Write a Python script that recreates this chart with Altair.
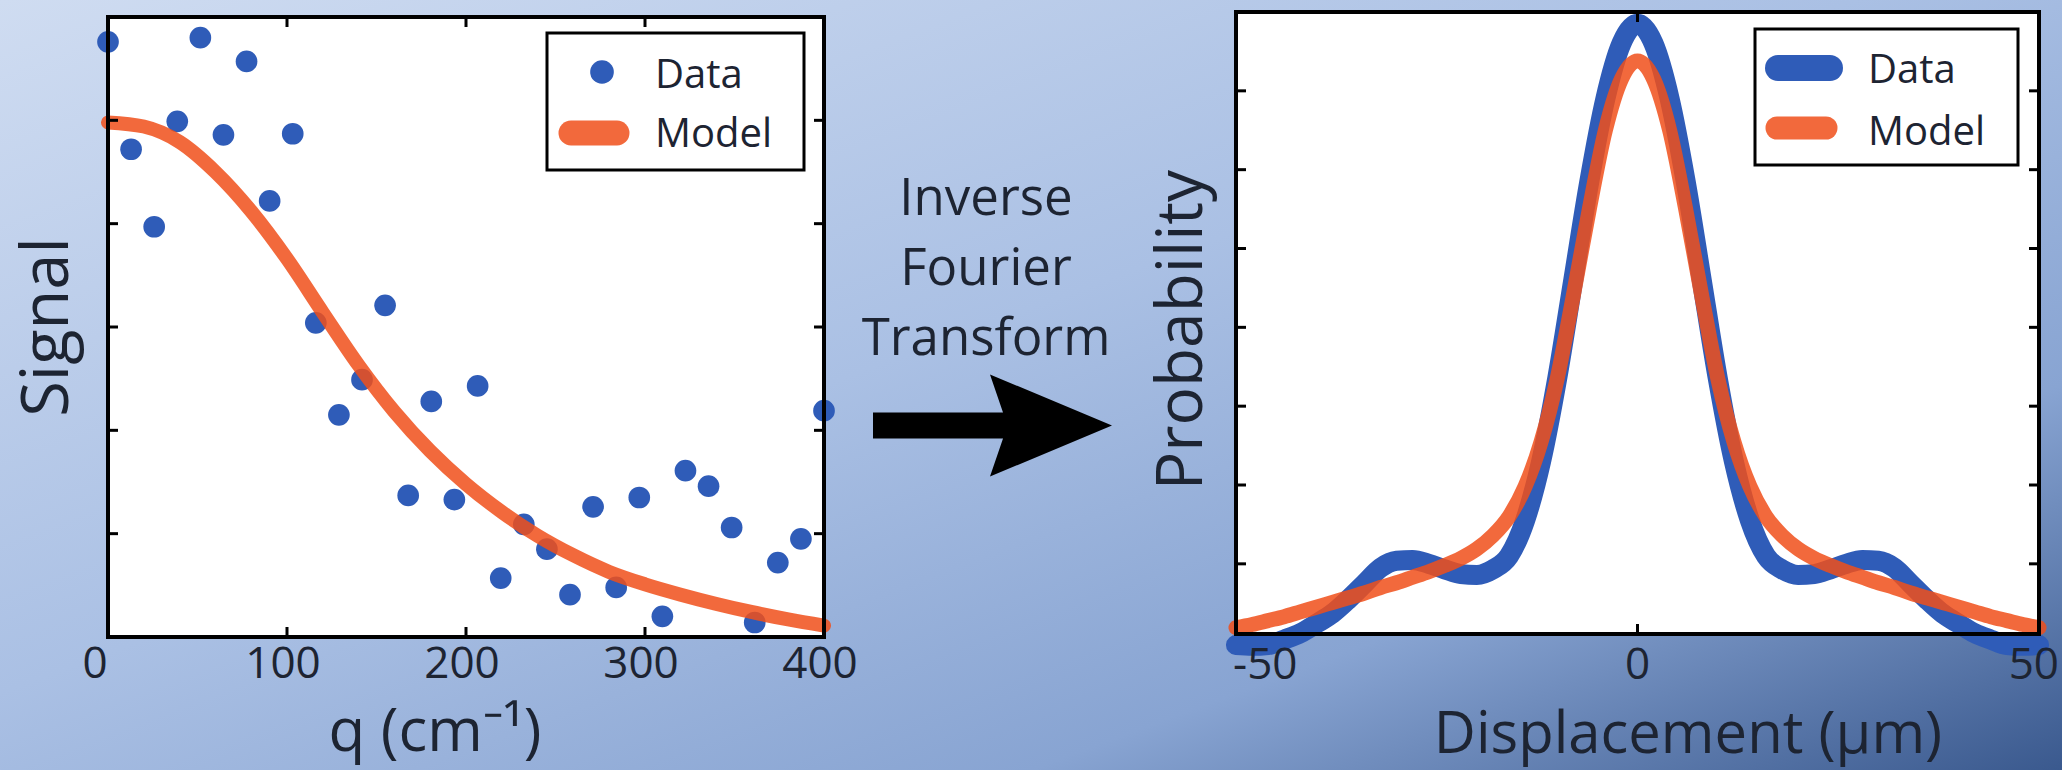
import altair as alt
import pandas as pd

# ---------------- measured signal vs. wavenumber ----------------
q_points = [0, 12.9, 25.8, 38.7, 51.6, 64.5, 77.4, 90.3, 103.2, 116.1, 129.0, 141.9,
            154.8, 167.7, 180.6, 193.5, 206.5, 219.4, 232.3, 245.2, 258.1, 271.0,
            283.9, 296.8, 309.7, 322.6, 335.5, 348.4, 361.3, 374.2, 387.1, 400.0]
signal_points = [5.76, 4.72, 3.97, 4.99, 5.80, 4.86, 5.57, 4.22, 4.87, 3.04, 2.15, 2.49,
                 3.21, 1.37, 2.28, 1.33, 2.43, 0.57, 1.09, 0.85, 0.41, 1.26,
                 0.48, 1.35, 0.20, 1.61, 1.46, 1.06, 0.14, 0.72, 0.95, 2.19]

# fitted model curve
q_fit = [0, 20, 40, 60, 80, 100, 120, 140, 160, 180, 200,
         220, 240, 260, 280, 300, 320, 340, 360, 380, 400]
signal_fit = [4.98, 4.94, 4.79, 4.50, 4.12, 3.66, 3.14, 2.63, 2.18, 1.80, 1.48,
              1.21, 0.98, 0.79, 0.63, 0.51, 0.41, 0.32, 0.24, 0.17, 0.11]

# ---------------- displacement probability ----------------
displacement = [-50, -48, -46, -44, -42, -40, -38, -36, -34, -32, -30, -28, -26,
                -24, -22, -20, -18, -16, -14, -12, -10, -8, -6, -4, -2, 0,
                2, 4, 6, 8, 10, 12, 14, 16, 18, 20, 22, 24, 26,
                28, 30, 32, 34, 36, 38, 40, 42, 44, 46, 48, 50]
prob_measured = [-0.03, -0.04, -0.03, 0.04, 0.12, 0.24, 0.37, 0.55, 0.75, 0.95, 1.04, 1.05, 1.00,
                 0.93, 0.87, 0.86, 0.93, 1.10, 1.55, 2.30, 3.35, 4.60, 5.85, 6.90, 7.60, 7.85,
                 7.60, 6.90, 5.85, 4.60, 3.35, 2.30, 1.55, 1.10, 0.93, 0.86, 0.87, 0.93, 1.00,
                 1.05, 1.04, 0.95, 0.75, 0.55, 0.37, 0.24, 0.12, 0.04, -0.03, -0.04, -0.03]
prob_fit = [0.19, 0.23, 0.28, 0.33, 0.39, 0.45, 0.51, 0.57, 0.63, 0.70, 0.76, 0.83, 0.90,
            0.98, 1.07, 1.19, 1.36, 1.60, 1.98, 2.55, 3.35, 4.40, 5.50, 6.50, 7.15, 7.38,
            7.15, 6.50, 5.50, 4.40, 3.35, 2.55, 1.98, 1.60, 1.36, 1.19, 1.07, 0.98, 0.90,
            0.83, 0.76, 0.70, 0.63, 0.57, 0.51, 0.45, 0.39, 0.33, 0.28, 0.23, 0.19]

series_names = ["Data", "Model"]
q_labels = [0, 100, 200, 300, 400]
q_inner_ticks = [100, 200, 300]
signal_ticks = [1, 2, 3, 4, 5]
disp_labels = [-50, 0, 50]
disp_label_text = ["-50", "0", "50"]
disp_inner_ticks = [0]
prob_ticks = [1, 2, 3, 4, 5, 6, 7]
q_title = "q (cm\u207b\u00b9)"
signal_title = "Signal"
disp_title = "Displacement (\u03bcm)"
prob_title = "Probability"
transform_text = "Inverse\nFourier\nTransform"

# ---------------- styling ----------------
W, H = 2062, 770
BLUE = "#2f5cb8"
ORANGE = "#f04f1a"
INK = "#1d2432"
FONT = "Open Sans"
TICK = 10

LEFT = {"x0": 108, "x1": 824, "y0": 17, "y1": 637}
RIGHT = {"x0": 1236, "x1": 2039, "y0": 12, "y1": 634}

one = alt.Data(values=[{"k": 0}])

sx_l = alt.Scale(domain=[0, 400], range=[LEFT["x0"], LEFT["x1"]], nice=False, zero=False)
sy_l = alt.Scale(domain=[0, 6], range=[LEFT["y1"], LEFT["y0"]], nice=False, zero=False)
sx_r = alt.Scale(domain=[-50, 50], range=[RIGHT["x0"], RIGHT["x1"]], nice=False, zero=False)
sy_r = alt.Scale(domain=[0.11, 8], range=[RIGHT["y1"], RIGHT["y0"]], nice=False, zero=False)


def box(xd, yd, sx, sy, **mark):
    df = pd.DataFrame({"x0": [xd[0]], "x1": [xd[1]], "y0": [yd[0]], "y1": [yd[1]]})
    return alt.Chart(df).mark_rect(**mark).encode(
        x=alt.X("x0:Q", scale=sx, axis=None), x2="x1:Q",
        y=alt.Y("y0:Q", scale=sy, axis=None), y2="y1:Q")


def ticks_x(vals, sx, rect):
    df = pd.DataFrame({"v": vals})
    base = alt.Chart(df).mark_rule(color="black", strokeWidth=3)
    bottom = base.encode(x=alt.X("v:Q", scale=sx, axis=None),
                         y=alt.value(rect["y1"]), y2=alt.value(rect["y1"] - TICK))
    top = base.encode(x=alt.X("v:Q", scale=sx, axis=None),
                      y=alt.value(rect["y0"]), y2=alt.value(rect["y0"] + TICK))
    return [bottom, top]


def ticks_y(vals, sy, rect):
    df = pd.DataFrame({"v": vals})
    base = alt.Chart(df).mark_rule(color="black", strokeWidth=3)
    left = base.encode(y=alt.Y("v:Q", scale=sy, axis=None),
                       x=alt.value(rect["x0"]), x2=alt.value(rect["x0"] + TICK))
    right = base.encode(y=alt.Y("v:Q", scale=sy, axis=None),
                        x=alt.value(rect["x1"]), x2=alt.value(rect["x1"] - TICK))
    return [left, right]


def tick_labels(vals, texts, sx, y, align="center", dx=0):
    df = pd.DataFrame({"v": vals, "t": texts})
    return alt.Chart(df).mark_text(font=FONT, fontSize=44, color=INK, align=align,
                                   baseline="middle", dx=dx).encode(
        x=alt.X("v:Q", scale=sx, axis=None), y=alt.value(y), text=alt.Text("t:N"))


def label(text, x, y, size, angle=0, align="center"):
    return alt.Chart(one).mark_text(font=FONT, fontSize=size, color=INK, align=align,
                                    baseline="alphabetic", angle=angle).encode(
        x=alt.value(x), y=alt.value(y), text=alt.value(text))


# ---------------- background ----------------
gradient = alt.LinearGradient(
    gradient="linear", x1=0, y1=0, x2=1, y2=1,
    stops=[alt.GradientStop(color="#cfdcf1", offset=0),
           alt.GradientStop(color="#aac0e4", offset=0.45),
           alt.GradientStop(color="#88a4d2", offset=0.75),
           alt.GradientStop(color="#3a598e", offset=1)])
background = alt.Chart(one).mark_rect(fill=gradient).encode(
    x=alt.value(0), x2=alt.value(W), y=alt.value(0), y2=alt.value(H))

# ---------------- left panel: signal ----------------
pts_df = pd.DataFrame({"q": q_points, "signal": signal_points})
fit_df = pd.DataFrame({"q": q_fit, "signal": signal_fit})
q_text = [str(v) for v in q_labels]

left_points = alt.Chart(pts_df).mark_circle(size=470, color=BLUE, opacity=1).encode(
    x=alt.X("q:Q", scale=sx_l, axis=None), y=alt.Y("signal:Q", scale=sy_l, axis=None))
left_fit = alt.Chart(fit_df).mark_line(
    color=ORANGE, opacity=0.85, strokeWidth=14, interpolate="monotone",
    strokeCap="round", strokeJoin="round").encode(
    x=alt.X("q:Q", scale=sx_l, axis=None), y=alt.Y("signal:Q", scale=sy_l, axis=None))

left_panel = alt.layer(
    box([0, 400], [0, 6], sx_l, sy_l, fill="white"),
    left_points,
    left_fit,
    box([0, 400], [0, 6], sx_l, sy_l, filled=False, stroke="black", strokeWidth=4),
    *ticks_x(q_inner_ticks, sx_l, LEFT),
    *ticks_y(signal_ticks, sy_l, LEFT),
    tick_labels(q_labels[:1], q_text[:1], sx_l, 665, dx=-13),
    tick_labels(q_labels[1:], q_text[1:], sx_l, 665, dx=-4),
)

left_titles = [
    label(q_title, 435, 751, 60),
    label(signal_title, 68, 327, 65, angle=270),
]

# legend of the left panel
left_legend = [
    alt.Chart(one).mark_rect(fill="white", stroke="black", strokeWidth=3).encode(
        x=alt.value(547), x2=alt.value(804), y=alt.value(33), y2=alt.value(170)),
    alt.Chart(one).mark_circle(size=560, color=BLUE, opacity=1).encode(
        x=alt.value(602), y=alt.value(72)),
    alt.Chart(one).mark_rule(color=ORANGE, opacity=0.85, strokeWidth=25, strokeCap="round").encode(
        x=alt.value(571), x2=alt.value(617), y=alt.value(133)),
    label(series_names[0], 655, 88, 40, align="left"),
    label(series_names[1], 655, 147, 40, align="left"),
]

# ---------------- middle: transform arrow ----------------
arrow_path = ("M -1 -0.109 L 0.088 -0.109 L -0.021 -0.427 L 1 0 "
              "L -0.021 0.427 L 0.088 0.109 L -1 0.109 Z")
arrow = alt.Chart(one).mark_point(shape=arrow_path, size=239 ** 2, filled=True,
                                  fill="black", strokeWidth=0, opacity=1).encode(
    x=alt.value(992.5), y=alt.value(425.5))
caption = alt.Chart(one).mark_text(align="center", baseline="alphabetic", font=FONT,
                                   fontSize=51, color=INK, lineBreak="\n",
                                   lineHeight=70).encode(
    x=alt.value(986), y=alt.value(215), text=alt.value(transform_text))

# ---------------- right panel: probability ----------------
prob_df = pd.DataFrame({"d": displacement, "data": prob_measured, "model": prob_fit})

right_data = alt.Chart(prob_df).mark_line(
    color=BLUE, strokeWidth=20, interpolate="monotone",
    strokeCap="round", strokeJoin="round").encode(
    x=alt.X("d:Q", scale=sx_r, axis=None), y=alt.Y("data:Q", scale=sy_r, axis=None))
right_fit = alt.Chart(prob_df).mark_line(
    color=ORANGE, opacity=0.85, strokeWidth=15, interpolate="monotone",
    strokeCap="round", strokeJoin="round").encode(
    x=alt.X("d:Q", scale=sx_r, axis=None), y=alt.Y("model:Q", scale=sy_r, axis=None))

right_panel = alt.layer(
    box([-50, 50], [0.11, 8], sx_r, sy_r, fill="white"),
    right_data,
    right_fit,
    box([-50, 50], [0.11, 8], sx_r, sy_r, filled=False, stroke="black", strokeWidth=4),
    *ticks_x(disp_inner_ticks, sx_r, RIGHT),
    *ticks_y(prob_ticks, sy_r, RIGHT),
    tick_labels(disp_labels[:1], disp_label_text[:1], sx_r, 666, align="left", dx=-3),
    tick_labels(disp_labels[1:2], disp_label_text[1:2], sx_r, 666),
    tick_labels(disp_labels[2:], disp_label_text[2:], sx_r, 666, align="right", dx=20),
)

right_titles = [
    label(disp_title, 1688, 753, 58),
    label(prob_title, 1202, 330, 64, angle=270),
]

right_legend = [
    alt.Chart(one).mark_rect(fill="white", stroke="black", strokeWidth=3).encode(
        x=alt.value(1755), x2=alt.value(2018), y=alt.value(29), y2=alt.value(165)),
    alt.Chart(one).mark_rule(color=BLUE, strokeWidth=26, strokeCap="round").encode(
        x=alt.value(1778), x2=alt.value(1830), y=alt.value(68)),
    alt.Chart(one).mark_rule(color=ORANGE, opacity=0.85, strokeWidth=23, strokeCap="round").encode(
        x=alt.value(1777), x2=alt.value(1826), y=alt.value(128)),
    label(series_names[0], 1868, 83, 40, align="left"),
    label(series_names[1], 1868, 145, 40, align="left"),
]

chart = alt.layer(
    background,
    left_panel,
    *left_titles,
    *left_legend,
    arrow,
    caption,
    right_panel,
    *right_titles,
    *right_legend,
).resolve_scale(x="independent", y="independent").properties(
    width=W, height=H, padding=0,
    autosize=alt.AutoSizeParams(type="none"),
    background="#a9bfe3",
).configure_view(strokeWidth=0)

chart.save("out.html", embed_options={"renderer": "svg", "actions": False})
